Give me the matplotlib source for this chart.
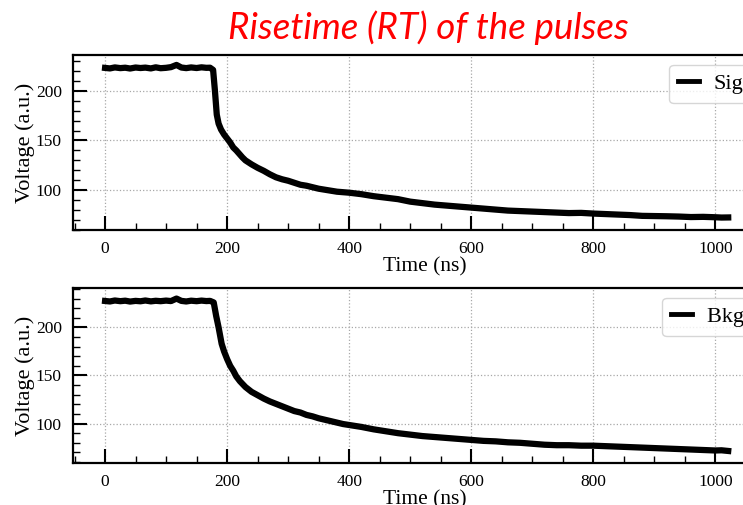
import matplotlib
matplotlib.use('Agg')
import matplotlib.pyplot as plt
from matplotlib.ticker import MultipleLocator

plt.rcParams['font.family'] = ['Liberation Serif', 'DejaVu Serif']

# Signal pulse (top panel)
sig_time = [0, 8, 16, 25, 33, 41, 50, 58, 66, 75, 83, 91, 100, 108, 117, 125, 133, 141, 150,
            158, 166, 172, 177, 180, 183, 186, 190, 195, 200, 205, 210, 215, 220, 225, 230,
            240, 250, 260, 270, 280, 290, 300, 310, 320, 330, 340, 350, 360, 370, 380, 390,
            400, 420, 440, 460, 480, 500, 520, 540, 560, 580, 600, 620, 640, 660, 680, 700,
            720, 740, 760, 780, 800, 820, 840, 860, 880, 900, 920, 940, 960, 980, 1000, 1010, 1021]
sig_volt = [223, 222.5, 223.5, 222.8, 223.2, 222.4, 223.4, 222.9, 223.3, 222.5, 223.6, 222.7, 223.1,
            223.8, 226, 223.4, 222.8, 223.5, 222.9, 223.6, 223.1, 223.2, 221, 200, 176, 167,
            161, 156, 152, 148, 143, 140, 136.5, 133, 130, 126, 122.5, 119.5, 116, 113, 111,
            109.5, 107.5, 105.5, 104.5, 103, 101.5, 100.5, 99.5, 98.5, 98, 97.5, 96, 94, 92.5,
            91, 88.5, 87, 85.5, 84.5, 83.5, 82.5, 81.5, 80.5, 79.5, 79, 78.5, 78, 77.5, 77,
            77.2, 76.5, 76, 75.5, 75, 74.2, 74, 73.8, 73.5, 73, 73.2, 72.8, 72.5, 72.6]

# Background pulse (bottom panel)
bkg_time = [0, 8, 16, 25, 33, 41, 50, 58, 66, 75, 83, 91, 100, 108, 117, 125, 133, 141, 150,
            158, 166, 172, 178, 182, 186, 191, 195, 200, 205, 210, 215, 221, 230, 240, 250,
            260, 270, 280, 290, 300, 310, 320, 330, 340, 350, 360, 370, 380, 390, 400, 420,
            440, 460, 480, 500, 520, 540, 560, 580, 600, 620, 640, 660, 680, 700, 720, 740,
            760, 780, 800, 820, 840, 860, 880, 900, 920, 940, 960, 980, 1000, 1010, 1021]
bkg_volt = [227.5, 227, 228, 227.3, 227.8, 226.9, 227.6, 227.2, 228, 227.1, 227.7, 227.3, 227.9,
            227.4, 230, 227.6, 227, 227.8, 227.3, 227.9, 227.4, 227.6, 226, 212, 200, 183,
            175, 167, 160, 155, 149, 144, 138, 133, 129.5, 126, 123, 120.5, 118, 115.5, 113,
            111.5, 109, 107.5, 105.5, 104, 102.5, 101, 99.5, 98.5, 96.5, 94, 92, 90, 88.5, 87,
            86, 85, 84, 83, 82, 81.5, 80.5, 80, 79, 78, 77.5, 77.5, 77, 77, 76.5, 76, 75.5,
            75, 74.5, 74, 73.5, 73, 72.5, 72, 72.2, 71.5]

x_ticks = [0, 200, 400, 600, 800, 1000]
y_ticks = [100, 150, 200]

fig = plt.figure(figsize=(7.43, 5.05), dpi=100)
ax_top = fig.add_axes([0.0983, 0.5446, 0.9475, 0.3465])
ax_bot = fig.add_axes([0.0983, 0.0832, 0.9475, 0.3465])

panels = [
    (ax_top, sig_time, sig_volt, 'Signal', (60, 236), (0.847, 0.945)),
    (ax_bot, bkg_time, bkg_volt, 'Bkg data', (59, 241), (0.837, 0.945)),
]

for ax, t, v, label, ylim, leg_pos in panels:
    ax.plot(t, v, color='black', linewidth=4.5, label=label)
    ax.set_xlim(-52.5, 1101)
    ax.set_ylim(*ylim)
    ax.set_xticks(x_ticks)
    ax.set_yticks(y_ticks)
    ax.xaxis.set_minor_locator(MultipleLocator(50))
    ax.yaxis.set_minor_locator(MultipleLocator(10))
    ax.tick_params(which='both', direction='in', labelsize=12.5)
    ax.tick_params(which='major', length=10, width=1.5, pad=8)
    ax.tick_params(which='minor', length=5, width=1.0)
    ax.grid(True, which='major', linestyle=':', color='#a8a8a8', linewidth=0.9)
    for side in ['left', 'bottom', 'top']:
        ax.spines[side].set_linewidth(1.6)
    ax.set_xlabel('Time (ns)', fontsize=15.5, labelpad=0)
    ax.set_ylabel('Voltage (a.u.)', fontsize=16, labelpad=1)
    leg = ax.legend(loc='upper left', bbox_to_anchor=leg_pos, borderaxespad=0,
                    fontsize=16, handlelength=0.95, handletextpad=0.65)
    for line in leg.get_lines():
        line.set_linewidth(3.5)

fig.text(0.577, 0.945, 'Risetime (RT) of the pulses', color='#ff0000',
         fontsize=26.5, style='italic', family='Lato', ha='center', va='center')

fig.savefig('out.png', dpi=100)
